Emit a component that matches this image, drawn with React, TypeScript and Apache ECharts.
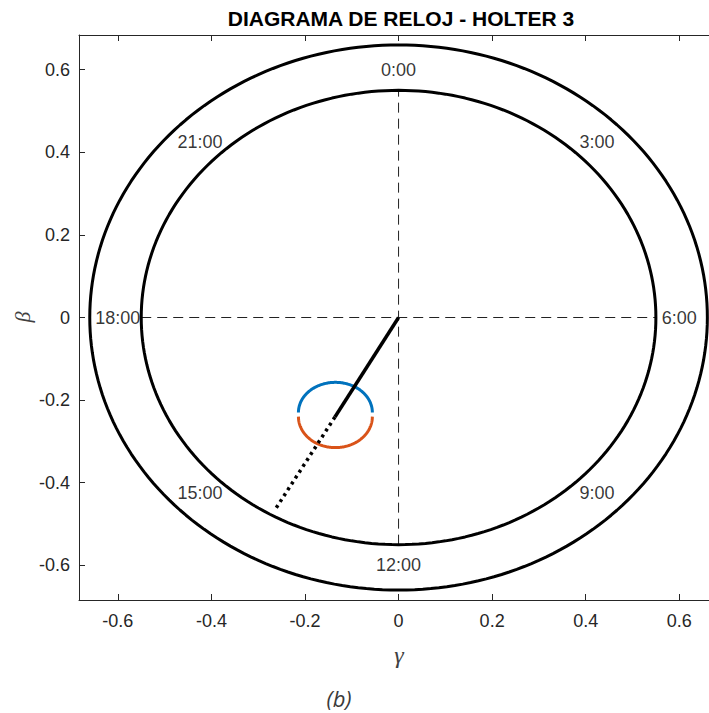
import React, { useEffect, useRef } from "react";
import * as echarts from "echarts";

// ---- data ----
const TITLE = "DIAGRAMA DE RELOJ - HOLTER 3";
const X_TICKS = [-0.6, -0.4, -0.2, 0, 0.2, 0.4, 0.6];
const Y_TICKS = [-0.6, -0.4, -0.2, 0, 0.2, 0.4, 0.6];
const X_RANGE = [-0.683, 0.6635];
const Y_RANGE = [-0.684, 0.684];
const RING_RADII = [0.66, 0.55];
const HOUR_LABELS = ["0:00", "3:00", "6:00", "9:00", "12:00", "15:00", "18:00", "21:00"];
const HOURS = [0, 3, 6, 9, 12, 15, 18, 21];
const LABEL_RADIUS = 0.6;
const CROSS_HALF = 0.55;
// vector: origin -> solid end -> dotted end
const VECTOR_SOLID = [[0, 0], [-0.136, -0.241]];
const VECTOR_DOTTED = [[-0.136, -0.241], [-0.265, -0.467]];
// small confidence half-ellipses: [cx, cy, rx, ry]
const UPPER_ARC = [-0.135, -0.23, 0.079, 0.073];
const LOWER_ARC = [-0.135, -0.24, 0.079, 0.075];

const N = 240;
function ellipsePts(cx: number, cy: number, rx: number, ry: number, a0: number, a1: number) {
  const pts: number[][] = [];
  for (let i = 0; i <= N; i++) {
    const t = a0 + ((a1 - a0) * i) / N;
    pts.push([cx + rx * Math.cos(t), cy + ry * Math.sin(t)]);
  }
  return pts;
}

export default function App() {
  const ref = useRef<HTMLDivElement>(null);
  useEffect(() => {
    if (!ref.current) return;
    const chart = echarts.init(ref.current, null, { renderer: "svg" });
    const axisColor = "#262626";
    const font = "Arial, 'Liberation Sans', sans-serif";

    const ringSeries = RING_RADII.map((r) => ({
      type: "line",
      data: ellipsePts(0, 0, r, r, 0, Math.PI * 2),
      showSymbol: false,
      silent: true,
      lineStyle: { color: "#000", width: 3 },
    }));

    const hourData = HOURS.map((h, i) => {
      const a = (h / 24) * Math.PI * 2;
      return {
        value: [LABEL_RADIUS * Math.sin(a), LABEL_RADIUS * Math.cos(a)],
        name: HOUR_LABELS[i],
      };
    });

    const tickFmt = (v: number) => String(Math.round(v * 10) / 10);

    const option: any = {
      animation: false,
      title: {
        text: TITLE,
        left: 396,
        textAlign: "center",
        top: 3,
        textStyle: { fontFamily: font, fontWeight: "bold", fontSize: 21, color: "#000" },
      },
      grid: { left: 79, top: 35, right: 0, height: 565, containLabel: false },
      xAxis: [
        {
          type: "value",
          position: "bottom",
          min: X_RANGE[0],
          max: X_RANGE[1],
          axisLine: { show: true, onZero: false, lineStyle: { color: axisColor, width: 1 } },
          axisTick: { show: true, inside: true, length: 6, customValues: X_TICKS, lineStyle: { color: axisColor } },
          axisLabel: {
            show: true,
            customValues: X_TICKS,
            margin: 12,
            color: axisColor,
            fontFamily: font,
            fontSize: 18,
            formatter: tickFmt,
          },
          splitLine: { show: false },
        },
        {
          type: "value",
          position: "top",
          min: X_RANGE[0],
          max: X_RANGE[1],
          axisLine: { show: true, onZero: false, lineStyle: { color: axisColor, width: 1 } },
          axisTick: { show: true, inside: true, length: 6, customValues: X_TICKS, lineStyle: { color: axisColor } },
          axisLabel: { show: false },
          splitLine: { show: false },
        },
      ],
      yAxis: [
        {
          type: "value",
          position: "left",
          min: Y_RANGE[0],
          max: Y_RANGE[1],
          axisLine: { show: true, onZero: false, lineStyle: { color: axisColor, width: 1 } },
          axisTick: { show: true, inside: true, length: 6, customValues: Y_TICKS, lineStyle: { color: axisColor } },
          axisLabel: {
            show: true,
            customValues: Y_TICKS,
            margin: 9,
            color: axisColor,
            fontFamily: font,
            fontSize: 18,
            formatter: tickFmt,
          },
          splitLine: { show: false },
        },
      ],
      series: [
        {
          type: "line",
          data: [[0, -CROSS_HALF], [0, CROSS_HALF]],
          showSymbol: false,
          silent: true,
          lineStyle: { color: "#222", width: 1, type: [10, 6] },
        },
        {
          type: "line",
          data: [[-CROSS_HALF, 0], [CROSS_HALF, 0]],
          showSymbol: false,
          silent: true,
          lineStyle: { color: "#222", width: 1, type: [10, 6] },
        },
        ...ringSeries,
        {
          type: "line",
          data: ellipsePts(UPPER_ARC[0], UPPER_ARC[1], UPPER_ARC[2], UPPER_ARC[3], 0, Math.PI),
          showSymbol: false,
          silent: true,
          lineStyle: { color: "#0072BD", width: 3 },
        },
        {
          type: "line",
          data: ellipsePts(LOWER_ARC[0], LOWER_ARC[1], LOWER_ARC[2], LOWER_ARC[3], Math.PI, Math.PI * 2),
          showSymbol: false,
          silent: true,
          lineStyle: { color: "#D95319", width: 3 },
        },
        {
          type: "line",
          data: VECTOR_SOLID,
          showSymbol: false,
          silent: true,
          lineStyle: { color: "#000", width: 3.5 },
        },
        {
          type: "line",
          data: VECTOR_DOTTED,
          showSymbol: false,
          silent: true,
          lineStyle: { color: "#000", width: 3.5, type: [3, 4] },
        },
        {
          type: "scatter",
          data: hourData,
          symbolSize: 0,
          silent: true,
          label: {
            show: true,
            position: "inside",
            formatter: "{b}",
            color: "#000",
            textBorderWidth: 0,
            fontFamily: font,
            fontSize: 18,
          },
        },
      ],
      graphic: [
        {
          type: "text",
          x: 399,
          y: 655,
          style: {
            text: "γ",
            fontFamily: "'Liberation Serif', 'DejaVu Serif', serif",
            fontStyle: "italic",
            fontSize: 24,
            fill: "#404040",
            textAlign: "center",
            textVerticalAlign: "middle",
          },
        },
        {
          type: "text",
          x: 22,
          y: 317,
          rotation: Math.PI / 2,
          style: {
            text: "β",
            fontFamily: "'Liberation Serif', 'DejaVu Serif', serif",
            fontStyle: "italic",
            fontSize: 22,
            fill: "#404040",
            textAlign: "center",
            textVerticalAlign: "middle",
          },
        },
        {
          type: "text",
          x: 339,
          y: 698,
          style: {
            text: "(b)",
            fontFamily: "'Open Sans', Lato, sans-serif",
            fontStyle: "italic",
            fontSize: 22,
            fill: "#3a3a3a",
            textAlign: "center",
            textVerticalAlign: "middle",
          },
        },
      ],
    };
    chart.setOption(option);
    return () => chart.dispose();
  }, []);
  return (
    <div
      ref={ref}
      style={{ position: "absolute", left: 0, top: 0, width: 709, height: 713, background: "#fff" }}
    />
  );
}
